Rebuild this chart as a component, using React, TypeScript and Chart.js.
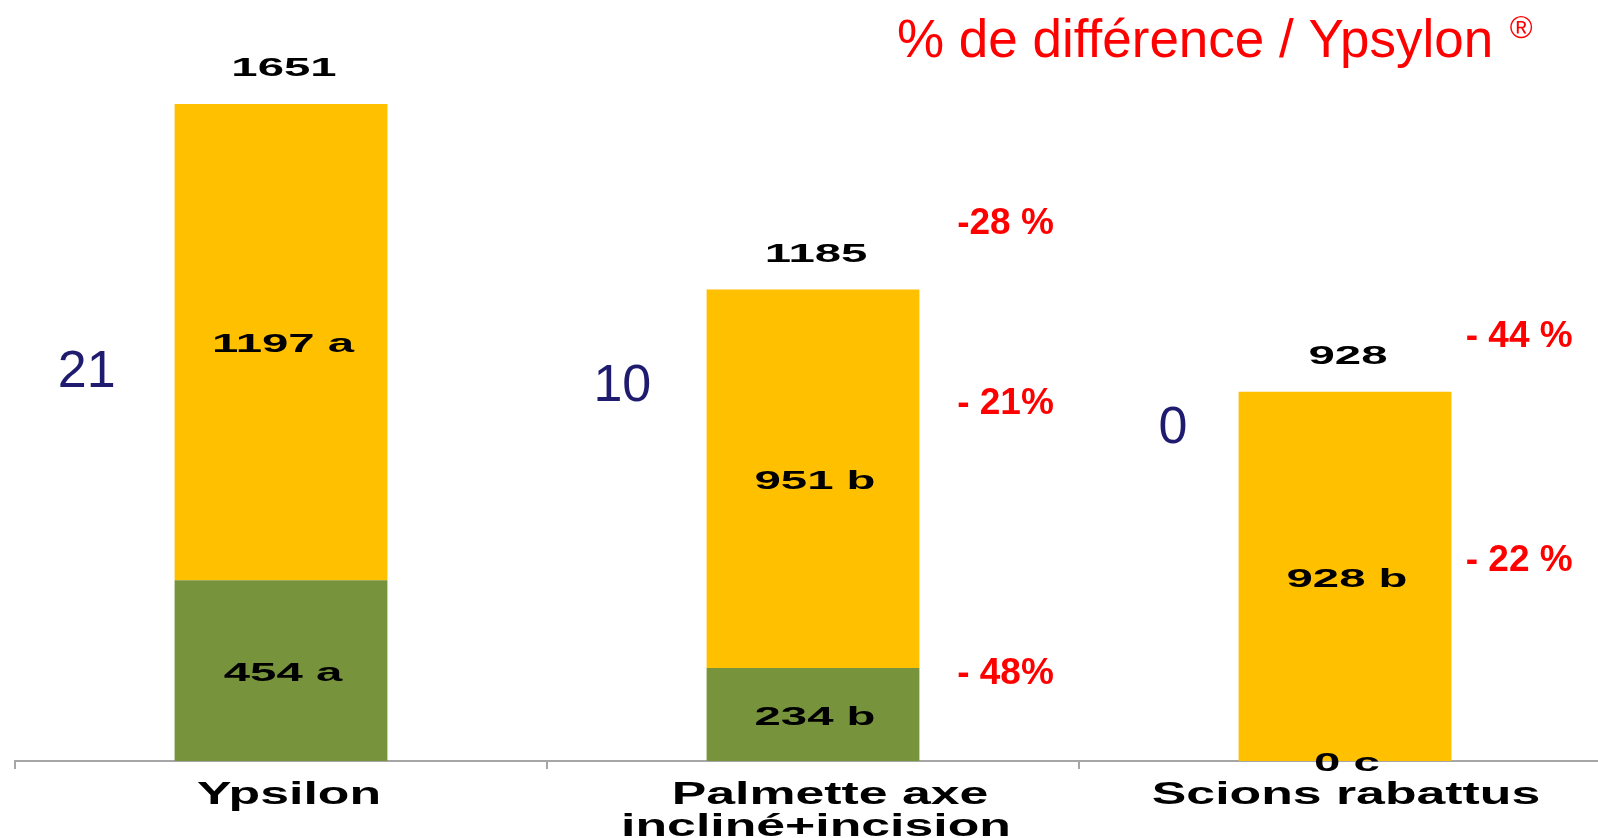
import React, { useEffect, useRef } from "react";
import { Chart, registerables } from "chart.js";

Chart.register(...registerables);

// ---- data ----
const categories: string[][] = [["Ypsilon"], ["Palmette axe", "incliné+incision"], ["Scions rabattus"]];
const greenValues = [454, 234, 0];
const yellowValues = [1197, 951, 928];
const greenLetters = ["a", "b", "c"];
const yellowLetters = ["a", "b", "b"];
const sideCounts = ["21", "10", "0"];
const sideCountLevels = [976, 941, 836];
const pctLabels = ["-28 %", "- 21%", "- 48%", "- 44 %", "- 22 %"];
const pctCategory = [1, 1, 1, 2, 2];
const pctLevels = [1349, 898, 220, 1065, 502];
const titleText = "% de différence / Ypsylon";
const titleMark = "®";

// ---- style ----
const GREEN = "#77933C";
const YELLOW = "#FFC000";
const RED = "#FF0000";
const NAVY = "#1F1B6E";
const FONT = "'Liberation Sans', Arial, sans-serif";
const pctOffsetByCat: Record<number, number> = { 1: 0.271, 2: 0.227 };
const sideCountOffsets = [-0.311, -0.304, -0.296];
const labelShift: number[][] = [[8], [17, 3], [1]];

function stretchText(ctx: CanvasRenderingContext2D, text: string, x: number, y: number, sx: number) {
  ctx.save();
  ctx.translate(x, y);
  ctx.scale(sx, 1);
  ctx.fillText(text, 0, 0);
  ctx.restore();
}

const labelsPlugin = {
  id: "customLabels",
  afterDraw(chart: any) {
    const ctx: CanvasRenderingContext2D = chart.ctx;
    const xs = chart.scales.x;
    const ys = chart.scales.y;
    const catW = (chart.chartArea.right - chart.chartArea.left) / categories.length;
    const mGreen = chart.getDatasetMeta(0);
    const mYellow = chart.getDatasetMeta(1);
    ctx.save();
    // segment labels
    ctx.fillStyle = "#000";
    ctx.textAlign = "center";
    ctx.textBaseline = "middle";
    ctx.font = `bold 26px ${FONT}`;
    for (let i = 0; i < categories.length; i++) {
      const g = mGreen.data[i];
      const yl = mYellow.data[i];
      stretchText(ctx, `${greenValues[i]} ${greenLetters[i]}`, g.x + 2, (g.y + g.base) / 2 + 3, 1.82);
      stretchText(ctx, `${yellowValues[i]} ${yellowLetters[i]}`, yl.x + 2, (yl.y + yl.base) / 2 + 3, 1.82);
      const total = greenValues[i] + yellowValues[i];
      const topY = ys.getPixelForValue(total);
      stretchText(ctx, String(total), yl.x + 3, topY - 35, 1.82);
    }
    // category labels
    ctx.font = `bold 31px ${FONT}`;
    ctx.textBaseline = "alphabetic";
    for (let i = 0; i < categories.length; i++) {
      const cx = xs.getPixelForValue(i);
      categories[i].forEach((line, k) => {
        stretchText(ctx, line, cx + labelShift[i][k], 804 + k * 32, 1.67);
      });
    }
    // side counts
    ctx.font = `52px ${FONT}`;
    ctx.fillStyle = NAVY;
    ctx.textAlign = "right";
    ctx.textBaseline = "middle";
    for (let i = 0; i < sideCounts.length; i++) {
      const cx = xs.getPixelForValue(i);
      ctx.fillText(sideCounts[i], cx + sideCountOffsets[i] * catW, ys.getPixelForValue(sideCountLevels[i]));
    }
    // percentages
    ctx.font = `bold 37px ${FONT}`;
    ctx.fillStyle = RED;
    ctx.textAlign = "left";
    for (let i = 0; i < pctLabels.length; i++) {
      const c = pctCategory[i];
      const cx = xs.getPixelForValue(c);
      ctx.fillText(pctLabels[i], cx + pctOffsetByCat[c] * catW, ys.getPixelForValue(pctLevels[i]));
    }
    // title
    ctx.textBaseline = "alphabetic";
    ctx.font = `53px ${FONT}`;
    ctx.fillText(titleText, 897, 57);
    const w = ctx.measureText(titleText + " ").width;
    ctx.font = `31px ${FONT}`;
    ctx.fillText(titleMark, 899 + w, 38);
    ctx.restore();
  },
};

export default function App() {
  const ref = useRef<HTMLCanvasElement | null>(null);
  useEffect(() => {
    if (!ref.current) return;
    const chart = new Chart(ref.current, {
      type: "bar",
      data: {
        labels: categories.map((c) => c.join(" ")),
        datasets: [
          { label: "green", data: greenValues, backgroundColor: GREEN, borderWidth: 0 },
          { label: "yellow", data: yellowValues, backgroundColor: YELLOW, borderWidth: 0 },
        ],
      },
      options: {
        responsive: false,
        animation: false,
        events: [],
        layout: { padding: { left: 15, right: 29, top: 5, bottom: 69 } },
        datasets: { bar: { barPercentage: 0.4, categoryPercentage: 1 } },
        plugins: { legend: { display: false }, tooltip: { enabled: false }, title: { display: false } },
        scales: {
          x: {
            stacked: true,
            offset: true,
            ticks: { display: false },
            grid: { offset: true, drawOnChartArea: false, drawTicks: true, tickLength: 8, color: "#A6A6A6", lineWidth: 2 },
            border: { display: true, color: "#A6A6A6", width: 2 },
          },
          y: { stacked: true, display: false, min: 0, max: 1900 },
        },
      },
      plugins: [labelsPlugin],
    });
    return () => chart.destroy();
  }, []);
  return (
    <div style={{ position: "fixed", left: 0, top: 0, width: 1598, height: 838, overflow: "hidden", background: "#fff" }}>
      <canvas ref={ref} width={1640} height={838} style={{ display: "block" }} />
    </div>
  );
}
